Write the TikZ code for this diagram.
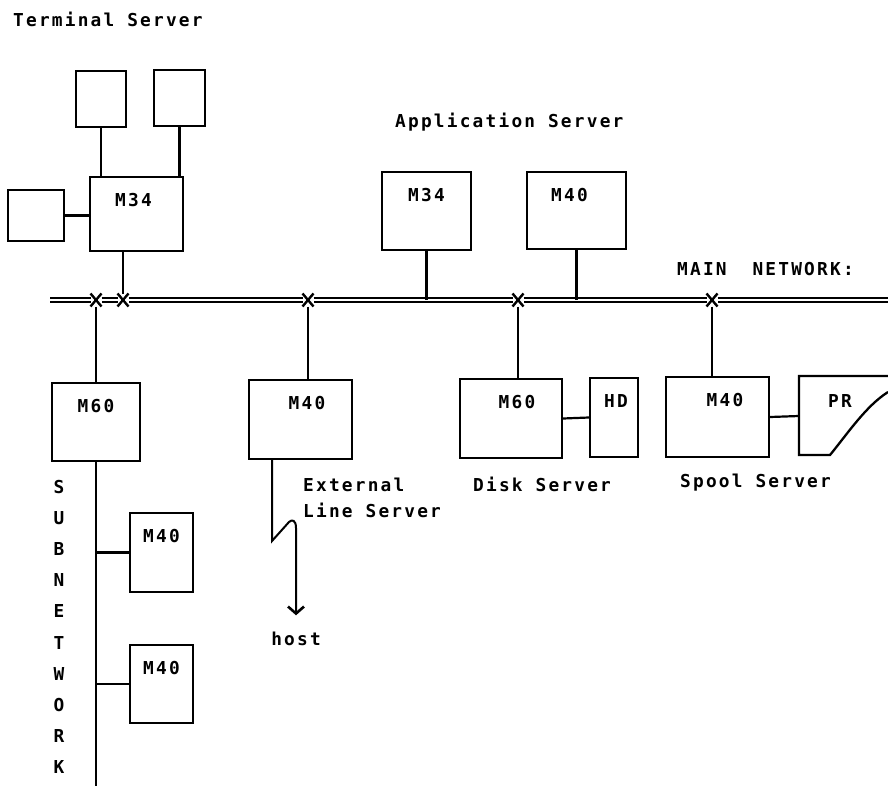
\documentclass[tikz,border=0pt]{standalone}
\usepackage{fontspec}
\usetikzlibrary{arrows.meta,shapes.misc}
\newfontfamily\plotfont[LetterSpace=12.4]{DejaVu Sans Mono}
\newcommand{\dia}{\plotfont\bfseries\fontsize{17.8}{21}\selectfont}

\begin{document}
\begin{tikzpicture}[x=1pt, y=-1pt,
    box/.style={draw, line width=2.3pt, inner sep=0pt},
    txt/.style={font=\dia, inner sep=0pt, anchor=base west},
    tag/.style={font=\dia, inner sep=0pt, anchor=base, yshift=-31pt},
    wire/.style={line width=2.2pt},
    net/.style={double, line width=2pt, double distance=1.8pt},
    xmark/.style={cross out, draw, line width=2.4pt, minimum width=6pt, minimum height=8pt, inner sep=0pt, outer sep=2.5pt}]
\useasboundingbox (0,0) rectangle (888,786);

% terminal server
\node[txt] (tsname) at (13,27) {Terminal Server};
\node[box, minimum width=50pt, minimum height=56pt] (tb1) at (101,99) {};
\node[box, minimum width=51pt, minimum height=56pt] (tb2) at (179.5,98) {};
\node[box, minimum width=56pt, minimum height=51pt] (tb3) at (36,215.5) {};
\node[box, minimum width=93pt, minimum height=74pt] (ts) at (136.5,214) {};
\node[tag, xshift=-3pt] (tsl) at (ts.north) {M34};
\draw[wire] (tb1.south) -- (tb1.south |- ts.north);
\draw[wire] (tb2.south) -- (tb2.south |- ts.north);
\draw[wire] (tb3.east) -- (tb3.east -| ts.west);

% application server
\node[txt] (asname) at (395,128) {Application Server};
\node[box, minimum width=89pt, minimum height=78pt] (am1) at (426.5,211) {};
\node[box, minimum width=99pt, minimum height=77pt] (am2) at (576.5,210.5) {};
\node[tag] (am1l) at (am1.north) {M34};
\node[tag, xshift=-7pt] (am2l) at (am2.north) {M40};

% main network
\node[txt] (netname) at (677,275) {MAIN\ \ NETWORK:};
\coordinate (netL) at (50,300);
\coordinate (netR) at (888,300);
\node[xmark] (x1) at (96,300) {};
\node[xmark] (x2) at (123,300) {};
\node[xmark] (x3) at (308,300) {};
\node[xmark] (x4) at (518,300) {};
\node[xmark] (x5) at (712,300) {};
\draw[net] (netL) -- (x1) -- (x2) -- (x3) -- (x4) -- (x5) -- (netR);
\draw[wire] (ts.south -| x2) -- (x2);
\draw[wire] (am1.south) -- (am1.south |- x3.center);
\draw[wire] (am2.south) -- (am2.south |- x4.center);

% subnetwork
\node[box, minimum width=88pt, minimum height=78pt] (sm) at (96,422) {};
\node[tag] (sml) at (sm.north) {M60};
\node[box, minimum width=63pt, minimum height=79pt] (s1) at (161.5,552.5) {};
\node[box, minimum width=63pt, minimum height=78pt] (s2) at (161.5,684) {};
\node[tag] (s1l) at (s1.north) {M40};
\node[tag] (s2l) at (s2.north) {M40};
\coordinate (subend) at (97,786);
\draw[wire] (x1) -- (x1 |- sm.north);
\draw[line width=1.8pt] (sm.south) -- (sm.south |- subend);
\draw[wire] (s1.west) -- (s1.west -| sm.south);
\draw[wire] (s2.west) -- (s2.west -| sm.south);
\foreach \c [count=\i] in {S,U,B,N,E,T,W,O,R,K}
  \node[font=\dia, inner sep=0pt, anchor=base] (sn\i) at (59,462.4+31.1*\i) {\c};

% external line server
\node[box, minimum width=103pt, minimum height=79pt] (em) at (300.5,419.5) {};
\node[tag, xshift=6.5pt] (eml) at (em.north) {M40};
\node[txt] (elname) at (303,491) {External};
\node[txt] (elname2) at (303,517) {Line Server};
\node[font=\dia, inner sep=0pt, anchor=base] (host) at (296,645) {host};
\draw[wire] (x3) -- (x3 |- em.north);
\draw[line width=2pt, -{Straight Barb[length=7pt, width=16pt, line width=2.6pt]}]
  ([xshift=-28.5pt]em.south) -- (272,541) -- (289,522)
  .. controls (292,519) and (296,520) .. (296,528) -- ([yshift=16pt]host.north);

% disk server
\node[box, minimum width=102pt, minimum height=79pt] (dm) at (511,418.5) {};
\node[box, minimum width=48pt, minimum height=79pt] (hd) at (614,417.5) {};
\node[tag, xshift=6pt] (dml) at (dm.north) {M60};
\node[tag, xshift=2pt] (hdl) at (hd.north) {HD};
\node[txt] (dsname) at (473,491) {Disk Server};
\draw[wire] (x4) -- (x4 |- dm.north);
\draw[wire] (dm.east) -- (hd.west);

% spool server
\node[box, minimum width=103pt, minimum height=80pt] (sp) at (717.5,417) {};
\node[tag, xshift=7.5pt] (spl) at (sp.north) {M40};
\draw[box] (888,376) -- (799,376) -- (799,455) -- (830,455)
  .. controls (848,433) and (866,406) .. (888,392);
\coordinate (pr) at (799,416);
\node[tag] (prl) at (840,376) {PR};
\node[txt] (ssname) at (680,487) {Spool Server};
\draw[wire] (x5) -- (x5 |- sp.north);
\draw[wire] (sp.east) -- (pr);
\end{tikzpicture}
\end{document}
